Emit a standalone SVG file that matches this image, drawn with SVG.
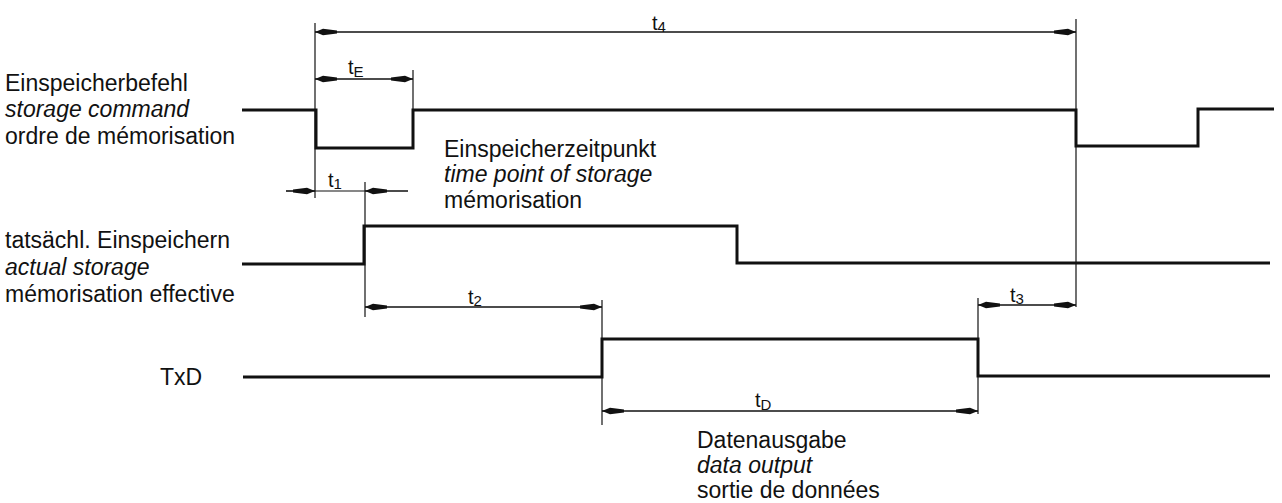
<svg xmlns="http://www.w3.org/2000/svg" width="1282" height="503" viewBox="0 0 1282 503">
<style>
.sig{fill:none;stroke:#111;stroke-width:3;stroke-linejoin:miter}
.dim{fill:none;stroke:#111;stroke-width:1.3;marker-start:url(#ah);marker-end:url(#ah)}
.ext{fill:none;stroke:#111;stroke-width:1.2}
.lbl{font-family:"Liberation Sans",Arial,sans-serif;font-size:23px;fill:#111}
.it{font-style:italic}
.t{font-family:"Liberation Sans",Arial,sans-serif;font-size:20px;fill:#111}
.sub{font-size:15px}
</style>
<defs>
<marker id="ah" viewBox="0 0 22 8" refX="22" refY="4" markerWidth="22" markerHeight="8" markerUnits="userSpaceOnUse" orient="auto-start-reverse">
<path d="M0,2.6 L14,0.8 L22,4 L14,7.2 L0,5.4 Z" fill="#111"/>
</marker>
</defs>
<rect width="1282" height="503" fill="#fff"/>
<g id="connectors">
<g id="extension-lines">
<path class="ext" d="M315,23 V198"/>
<path class="ext" d="M413,70 V110"/>
<path class="ext" d="M365,182 V317"/>
<path class="ext" d="M602,300 V425"/>
<path class="ext" d="M978,298 V414"/>
<path class="ext" d="M1076,19 V307"/>
</g>
<g id="dimensions">
<path class="dim" d="M315,32 H1076"/>
<path class="dim" d="M315,79 H413"/>
<path class="ext" d="M286,191 H408"/>
<path class="ext" d="M286,191 H315" style="marker-end:url(#ah)"/>
<path class="ext" d="M408,191 H365" style="marker-end:url(#ah)"/>
<path class="dim" d="M365,307 H602"/>
<path class="dim" d="M978,305 H1076"/>
<path class="dim" d="M602,411 H978"/>
</g>
</g>
<g id="signal-storage-command">
<path class="sig" d="M242,110 H316 V148 H413 V110 H1076 V146 H1198 V109 H1274"/>
<text class="lbl" x="5" y="91">Einspeicherbefehl</text>
<text class="lbl it" x="5" y="117">storage command</text>
<text class="lbl" x="5" y="144">ordre de mémorisation</text>
</g>
<g id="signal-actual-storage">
<path class="sig" d="M242,264 H364 V226 H737 V263 H1270"/>
<text class="lbl" x="5" y="248">tatsächl. Einspeichern</text>
<text class="lbl it" x="5" y="275">actual storage</text>
<text class="lbl" x="5" y="302">mémorisation effective</text>
</g>
<g id="signal-txd">
<path class="sig" d="M243,377 H602 V339 H978 V376 H1270"/>
<text class="lbl" x="160" y="385">TxD</text>
</g>
<g id="note-time-point">
<text class="lbl" x="444" y="157">Einspeicherzeitpunkt</text>
<text class="lbl it" x="444" y="182">time point of storage</text>
<text class="lbl" x="444" y="208">mémorisation</text>
</g>
<g id="note-data-output">
<text class="lbl" x="697" y="448">Datenausgabe</text>
<text class="lbl it" x="697" y="473">data output</text>
<text class="lbl" x="697" y="498">sortie de données</text>
</g>
<g id="time-labels">
<text class="t" x="652" y="30">t<tspan class="sub" dy="2">4</tspan></text>
<text class="t" x="348" y="74">t<tspan class="sub" dy="3">E</tspan></text>
<text class="t" x="328" y="187">t<tspan class="sub" dy="2">1</tspan></text>
<text class="t" x="468" y="304">t<tspan class="sub" dy="2">2</tspan></text>
<text class="t" x="1010" y="302">t<tspan class="sub" dy="2">3</tspan></text>
<text class="t" x="755" y="407">t<tspan class="sub" dy="3">D</tspan></text>
</g>
</svg>
